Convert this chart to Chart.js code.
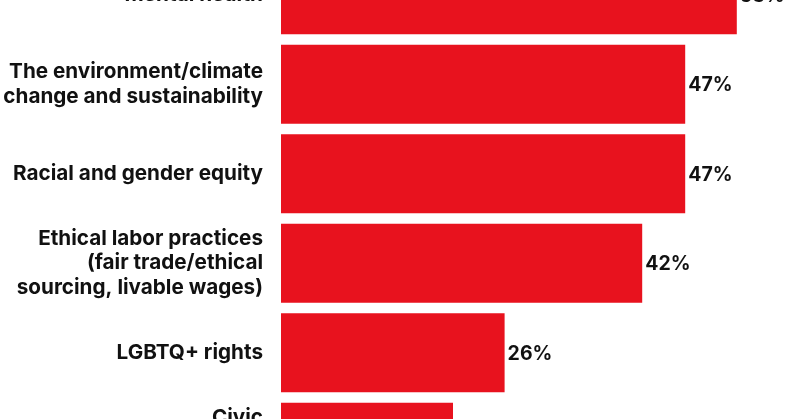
<!DOCTYPE html>
<html>
<head>
<meta charset="utf-8">
<script src="https://cdn.jsdelivr.net/npm/chart.js@4/dist/chart.umd.min.js"></script>
<style>
  html, body { margin: 0; padding: 0; background: #ffffff; overflow: hidden; }
  #wrap { position: relative; width: 800px; height: 419px; overflow: hidden; }
  #c { position: absolute; left: 0; top: -50px; }
</style>
</head>
<body>
<div id="wrap"><canvas id="c" width="800" height="537"></canvas></div>
<script>
const categories = [
  ["Mental health"],
  ["The environment/climate", "change and sustainability"],
  ["Racial and gender equity"],
  ["Ethical labor practices", "(fair trade/ethical", "sourcing, livable wages)"],
  ["LGBTQ+ rights"],
  ["Civic", "engagement and", "voting rights"]
];
const values = [53, 47, 47, 42, 26, 20];
const valueLabels = ["53%", "47%", "47%", "42%", "26%", "20%"];

const BAR_LEFT = 281;

const valuePlugin = {
  id: 'valueLabels',
  afterDatasetsDraw(chart) {
    const ctx = chart.ctx;
    const meta = chart.getDatasetMeta(0);
    ctx.save();
    ctx.font = '700 19.5px Inter';
    ctx.fillStyle = '#111111';
    ctx.textAlign = 'left';
    ctx.textBaseline = 'middle';
    meta.data.forEach((bar, i) => {
      ctx.fillText(valueLabels[i], bar.x + 3, bar.y + 1);
    });
    ctx.restore();
  }
};

new Chart(document.getElementById('c'), {
  type: 'bar',
  data: {
    labels: categories,
    datasets: [{
      data: values,
      backgroundColor: '#E8121E',
      borderWidth: 0,
      barPercentage: 0.9,
      categoryPercentage: 0.98
    }]
  },
  options: {
    indexAxis: 'y',
    responsive: false,
    maintainAspectRatio: false,
    animation: false,
    devicePixelRatio: 1,
    layout: { padding: { left: 0, right: 3, top: 0, bottom: 0 } },
    plugins: { legend: { display: false }, tooltip: { enabled: false } },
    scales: {
      x: { display: false, min: 0, max: 60 },
      y: {
        grid: { display: false, drawTicks: false },
        border: { display: false },
        afterFit(scale) {
          scale.width = BAR_LEFT;
          scale.paddingTop = 0;
          scale.paddingBottom = 0;
        },
        ticks: {
          color: '#111111',
          padding: 18,
          font: { family: 'Inter', size: 20.7, weight: '700', lineHeight: 1.2 },
          crossAlign: 'near'
        }
      }
    }
  },
  plugins: [valuePlugin]
});
</script>
</body>
</html>
